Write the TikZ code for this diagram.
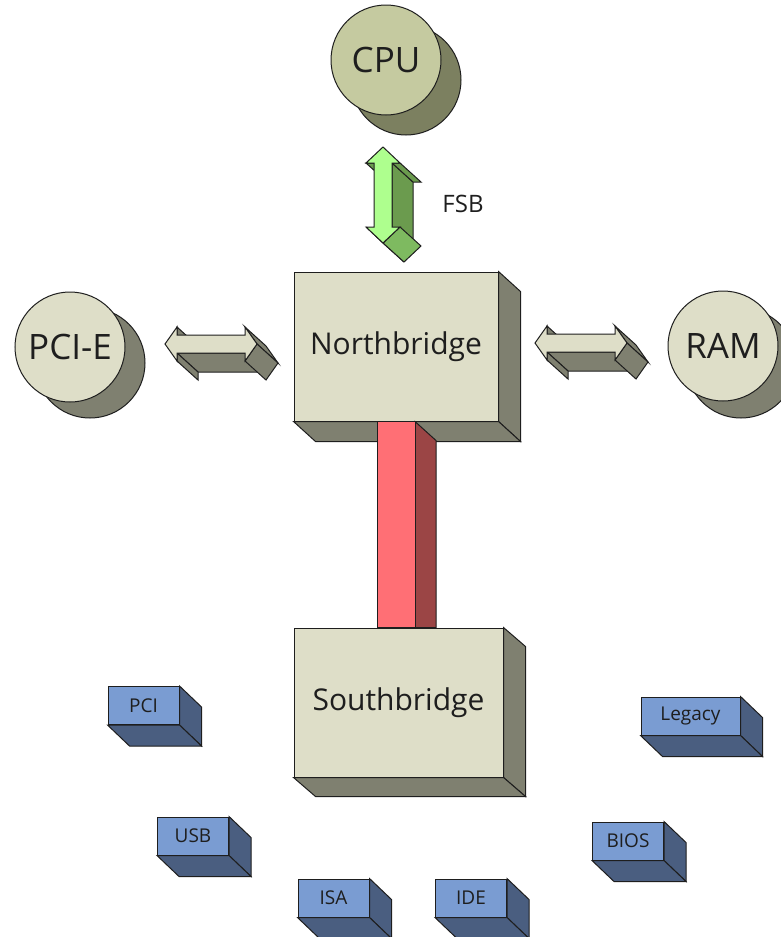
\documentclass[tikz,border=0pt]{standalone}
\usepackage{fontspec}
\setmainfont{Open Sans}
\usetikzlibrary{calc}
\pgfdeclarelayer{back}
\pgfdeclarelayer{mid}
\pgfsetlayers{back,mid,main}
\definecolor{ink}{HTML}{1E1E1E}
\definecolor{beige}{HTML}{DEDEC8}
\definecolor{beigeside}{HTML}{7F8070}
\definecolor{cpufront}{HTML}{C5CAA0}
\definecolor{cpuside}{HTML}{7C8060}
\definecolor{fsbfront}{HTML}{AEFF8E}
\definecolor{fsbdark}{HTML}{6B9B4E}
\definecolor{fsbmid}{HTML}{7EBA60}
\definecolor{barfront}{HTML}{FF6F75}
\definecolor{barside}{HTML}{9B4545}
\definecolor{bluefront}{HTML}{7A9CD2}
\definecolor{blueside}{HTML}{4A5E80}
\newcommand\depthfaces[3]{%
  \draw[#2] (#1.north east) -- ++(#3) -- ($(#1.south east)+(#3)$) -- (#1.south east) -- cycle;
  \draw[#2] (#1.south west) -- ++(#3) -- ($(#1.south east)+(#3)$) -- (#1.south east) -- cycle;
}
\tikzset{
  edge/.style={draw=ink, line width=1pt, line join=miter},
  coin/.style={circle, edge, fill=beige, minimum size=110pt, inner sep=0pt,
    font=\fontsize{35}{35}\selectfont, text=ink},
  coinshade/.style={circle, edge, fill=beigeside, minimum size=110pt, inner sep=0pt},
  bigbox/.style={rectangle, edge, fill=beige, inner sep=0pt, minimum height=149pt,
    font=\fontsize{30}{30}\selectfont, text=ink},
  bigside/.style={edge, fill=beigeside},
  chip/.style={rectangle, edge, fill=bluefront, inner sep=0pt, minimum height=38pt,
    minimum width=71pt, font=\fontsize{19}{19}\selectfont, text=ink},
  chipside/.style={edge, fill=blueside},
  pics/harrow/.style={code={
    \draw[edge, fill=beigeside] (12,-17) -- (12,-9) -- (33,10) -- (33,2) -- cycle;
    \draw[edge, fill=beigeside] (12,9) -- (80,9) -- (101,28) -- (33,28) -- cycle;
    \draw[edge, fill=beigeside] (12,9) -- (12,17) -- (33,36) -- (33,28) -- cycle;
    \draw[edge, fill=beigeside] (80,-17) -- (92,0) -- (113,19) -- (101,2) -- cycle;
    \draw[edge, fill=beigeside] (92,0) -- (80,17) -- (101,36) -- (113,19) -- cycle;
    \draw[edge, fill=beige] (0,0) -- (12,-17) -- (12,-9) -- (80,-9) -- (80,-17) -- (92,0)
      -- (80,17) -- (80,9) -- (12,9) -- (12,17) -- cycle;
  }},
  pics/varrow/.style={code={
    \draw[edge, fill=fsbdark] (-9,16) -- (-17,16) -- (4,35) -- (12,35) -- cycle;
    \draw[edge, fill=fsbdark] (9,16) -- (9,80) -- (30,99) -- (30,35) -- cycle;
    \draw[edge, fill=fsbdark] (17,16) -- (9,16) -- (30,35) -- (38,35) -- cycle;
    \draw[edge, fill=fsbmid] (0,96) -- (-17,80) -- (4,99) -- (21,115) -- cycle;
    \draw[edge, fill=fsbmid] (17,80) -- (0,96) -- (21,115) -- (38,99) -- cycle;
    \draw[edge, fill=fsbfront] (0,0) -- (17,16) -- (9,16) -- (9,80) -- (17,80) -- (0,96)
      -- (-17,80) -- (-9,80) -- (-9,16) -- (-17,16) -- cycle;
  }},
}
\begin{document}
\begin{tikzpicture}[x=1pt, y=-1pt]
\useasboundingbox (0,0) rectangle (781,937);
\clip (0,0) rectangle (781,937);

% CPU
\node[coinshade, fill=cpuside] (cpushadow) at (406,80) {};
\node[coin, fill=cpufront] (cpu) at (386,60) {CPU};
% PCI-E
\node[coinshade] (pcieshadow) at (90,363) {};
\node[coin] (pcie) at (70,347) {PCI-E};
% RAM
\node[coinshade] (ramshadow) at (741,363) {};
\node[coin] (ram) at (723,346) {RAM};

% Northbridge
\begin{pgfonlayer}{back}
\node[bigbox, minimum width=204pt] (nb) at (396,346.5) {Northbridge};
\depthfaces{nb}{bigside}{22,20}
\end{pgfonlayer}

% Southbridge
\node[bigbox, minimum width=209pt] (sb) at (398.5,702.5) {Southbridge};
\depthfaces{sb}{bigside}{22,19}

% bus between bridges
\begin{pgfonlayer}{mid}
\coordinate (barL) at ($(nb.south)+(-19,0)$);
\coordinate (barR) at ($(nb.south)+(19,0)$);
\draw[edge, fill=barside] (barR) -- ++(21,19) -- ($(barR |- sb.north)+(21,0)$) -- (barR |- sb.north) -- cycle;
\draw[edge, fill=barfront] (barL) rectangle (barR |- sb.north);
\end{pgfonlayer}

% arrows
\pic (fsb) at (383,147) {varrow};
\node[font=\fontsize{24}{24}\selectfont, text=ink] (fsblabel) at (463,204) {FSB};
\pic (pciearrow) at (165,344) {harrow};
\pic (ramarrow) at (535,343) {harrow};

% chips
\node[chip] (pci) at (143.5,705.5) {PCI};
\depthfaces{pci}{chipside}{22,21}
\node[chip] (usb) at (193,836) {USB};
\depthfaces{usb}{chipside}{22,21}
\node[chip] (isa) at (333.5,898) {ISA};
\depthfaces{isa}{chipside}{22,21}
\node[chip] (ide) at (471,898) {IDE};
\depthfaces{ide}{chipside}{22,21}
\node[chip, minimum width=99pt] (legacy) at (690.5,716) {Legacy};
\depthfaces{legacy}{chipside}{22,21}
\node[chip] (bios) at (628,841) {BIOS};
\depthfaces{bios}{chipside}{22,21}
\end{tikzpicture}
\end{document}
